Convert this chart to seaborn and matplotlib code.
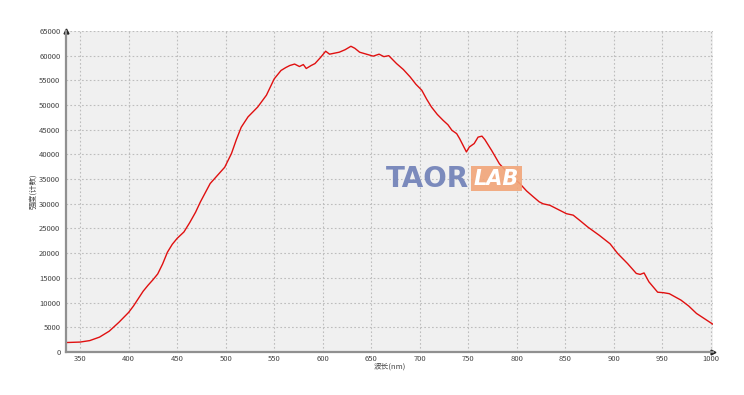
import numpy as np
import pandas as pd
import seaborn as sns
import matplotlib

matplotlib.use("Agg")
import matplotlib.pyplot as plt

# spectrum
wavelength = [335, 350, 360, 370, 380, 390, 400, 405, 410, 415, 420, 425, 430, 435,
              440, 445, 450, 457, 463, 469, 474, 484, 499, 506, 511, 516, 523, 533,
              542, 550, 557, 562, 566, 571, 576, 580, 583, 588, 592, 598, 603, 607,
              612, 617, 623, 629, 633, 638, 645, 652, 658, 663, 668, 676, 683, 690,
              696, 702, 707, 712, 718, 724, 729, 733, 738, 741, 748, 751, 756, 760,
              764, 767, 774, 782, 793, 803, 810, 817, 823, 827, 834, 841, 851, 858,
              865, 873, 885, 896, 904, 914, 923, 927, 931, 936, 945, 951, 957, 969,
              977, 985, 1002]
intensity = [1900, 2000, 2300, 3000, 4200, 6000, 8000, 9300, 10800, 12300, 13500,
             14600, 15800, 17800, 20200, 21800, 23000, 24300, 26200, 28300, 30400,
             34100, 37400, 40200, 43000, 45500, 47600, 49600, 52000, 55300, 57000,
             57600, 58000, 58300, 57800, 58200, 57400, 58000, 58400, 59700, 60900,
             60300, 60500, 60700, 61200, 61900, 61500, 60700, 60300, 59900, 60300,
             59800, 60000, 58400, 57200, 55700, 54200, 53000, 51200, 49600, 48100,
             46900, 46000, 44900, 44200, 43200, 40500, 41500, 42200, 43500, 43700,
             43000, 40800, 38100, 35800, 34100, 32600, 31400, 30400, 30000, 29700,
             29000, 28000, 27700, 26600, 25300, 23600, 21900, 19900, 17900, 15900,
             15700, 16000, 14200, 12100, 12000, 11800, 10500, 9300, 7800, 5600]

x_ticks = list(range(350, 1001, 50))
y_ticks = list(range(0, 65001, 5000))

spec_df = pd.DataFrame({"wl": wavelength, "counts": intensity})

sns.set_theme(style="white")
plt.rcParams["font.family"] = ["Noto Sans CJK SC", "DejaVu Sans"]

fig = plt.figure(figsize=(7.44, 3.95), dpi=100)
ax = fig.add_axes([0.0887, 0.109, 0.8696, 0.8126])
ax.set_facecolor("#f0f0f0")

sns.lineplot(data=spec_df, x="wl", y="counts", color="#e01010", linewidth=1.0, ax=ax)

ax.set_xlim(335.5, 1002)
ax.set_ylim(0, 65000)
ax.set_xticks(x_ticks)
ax.set_yticks(y_ticks)
ax.grid(True, color="#bdbdbd", linestyle=(0, (1.5, 2)), linewidth=0.8)
ax.tick_params(axis="both", labelsize=5.5, colors="#444444", length=2.5, width=0.6)
ax.tick_params(axis="x", length=0, pad=2)
ax.tick_params(axis="y", pad=1.5)

for side in ["top", "right"]:
    ax.spines[side].set_visible(False)
for side in ["left", "bottom"]:
    ax.spines[side].set_color("#909090")
    ax.spines[side].set_linewidth(1.6)

# arrow heads on the axes
ax.plot(1, 0, ">", color="#222222", markersize=3.5, transform=ax.transAxes, clip_on=False)
ax.plot(0, 1, "^", color="#222222", markersize=3.5, transform=ax.transAxes, clip_on=False)

ax.set_xlabel("波长(nm)", fontsize=5.5, color="#444444", labelpad=0)
ax.set_ylabel("强度(计数)", fontsize=5.5, color="#444444", labelpad=1)

# watermark
fig.text(0.518, 0.548, "TAOR", fontsize=20, fontweight="bold", color="#7585ba",
         family="DejaVu Sans", ha="left", va="center", alpha=0.95)
fig.text(0.637, 0.548, "LAB", fontsize=15, fontweight="bold", fontstyle="italic",
         color="white", family="DejaVu Sans", ha="left", va="center",
         bbox=dict(boxstyle="square,pad=0.12", facecolor="#f2a578", edgecolor="none", alpha=0.9))

plt.savefig("out.png", dpi=100)
